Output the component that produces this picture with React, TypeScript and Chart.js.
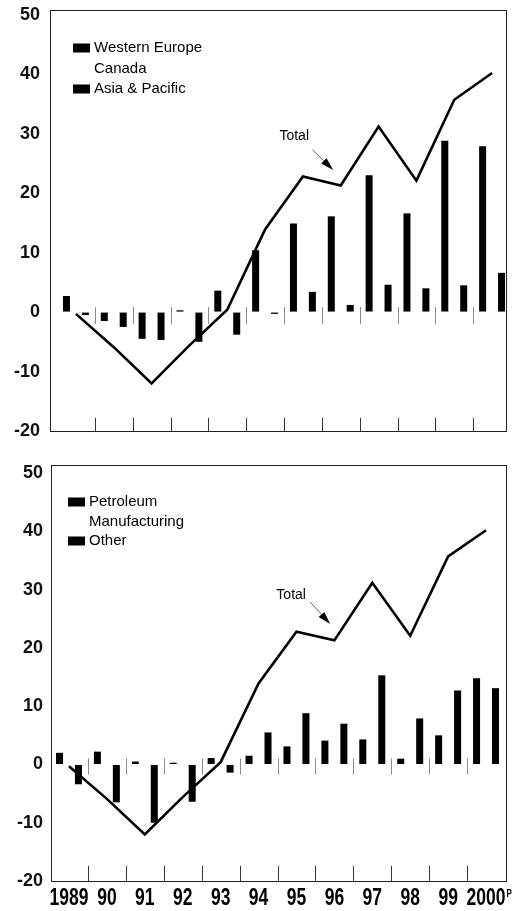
import React, { useEffect, useRef } from "react";
import { Chart, registerables } from "chart.js";

Chart.register(...registerables);

// ---------- data ----------
const years = ["1989", "90", "91", "92", "93", "94", "95", "96", "97", "98", "99", "2000"];
const lastYearNote = "P";
const total = [-0.3, -5.9, -12.0, -5.6, 0.4, 13.9, 22.8, 21.3, 31.2, 22.1, 35.7, 40.2];

const westernEurope = [2.7, -1.5, -4.5, 0.3, 3.6, 10.4, 14.9, 16.1, 23.0, 16.6, 28.8, 27.9];
const canada = [-2.5, -1.9, -2.8, -0.9, 0.6, 3.8, 4.5, 4.0, 3.6, 1.5, 2.4, 5.7];
const asiaPacific = [-0.5, -2.5, -4.7, -5.0, -3.8, -0.3, 3.4, 1.2, 4.6, 4.0, 4.5, 6.6];

const petroleum = [2.0, 2.2, 0.5, 0.3, 1.1, 1.5, 3.1, 4.1, 4.3, 1.0, 5.0, 14.8];
const manufacturing = [1.1, -1.6, -2.5, 0.5, 0.7, 6.9, 10.9, 10.2, 11.6, 13.2, 18.0, 12.3];
const other = [-3.4, -6.5, -10.0, -6.4, -1.4, 5.5, 8.8, 7.0, 15.3, 7.9, 12.7, 13.1];

const yTickValues = [-20, -10, 0, 10, 20, 30, 40, 50];
const totalLabel = "Total";

const FONT = '"Liberation Sans", Arial, Helvetica, sans-serif';

// ---------- decoration plugin ----------
const decorPlugin: any = {
  id: "decor",
  beforeDatasetsDraw(chart: any, _a: any, o: any) {
    const { ctx, chartArea } = chart;
    const xs = chart.scales.x;
    const ys = chart.scales.y;
    const n = chart.data.labels.length;
    const y0 = ys.getPixelForValue(0);
    ctx.save();
    ctx.lineWidth = 1;
    for (let i = 0; i < n - 1; i++) {
      const bx = Math.round((xs.getPixelForValue(i) + xs.getPixelForValue(i + 1)) / 2) + 0.5;
      ctx.strokeStyle = "#8a8a8a";
      ctx.beginPath();
      ctx.moveTo(bx, y0 - o.zeroUp);
      ctx.lineTo(bx, y0 + o.zeroDown);
      ctx.stroke();
      ctx.strokeStyle = "#333";
      ctx.beginPath();
      ctx.moveTo(bx, chartArea.bottom);
      ctx.lineTo(bx, chartArea.bottom - o.baseTick);
      ctx.stroke();
    }
    ctx.restore();
  },
  afterDatasetsDraw(chart: any, _a: any, o: any) {
    const { ctx, chartArea } = chart;
    const xs = chart.scales.x;
    const ys = chart.scales.y;
    const fl = chartArea.left + o.frameLeft;
    const fr = chartArea.right + o.frameRight;
    ctx.save();
    // frame
    ctx.strokeStyle = "#222";
    ctx.lineWidth = 1;
    ctx.strokeRect(Math.round(fl) + 0.5, Math.round(chartArea.top) + 0.5, Math.round(fr - fl), Math.round(chartArea.bottom - chartArea.top));

    // legend
    const bars = chart.data.datasets.filter((d: any) => d.type !== "line");
    ctx.font = `15px ${FONT}`;
    ctx.textBaseline = "middle";
    ctx.textAlign = "left";
    bars.forEach((d: any, i: number) => {
      const cy = chartArea.top + o.legendY + i * o.legendRow;
      const bx = fl + o.legendX;
      ctx.fillStyle = d.backgroundColor;
      ctx.fillRect(bx, cy - 4.5, 17, 9);
      ctx.fillStyle = "#000";
      ctx.fillText(d.label, bx + 21, cy);
    });

    // annotation
    const a = o.note;
    const tx = xs.getPixelForValue(a.text[0]);
    const ty = ys.getPixelForValue(a.text[1]);
    ctx.font = `14px ${FONT}`;
    ctx.textAlign = "center";
    ctx.fillStyle = "#000";
    ctx.fillText(totalLabel, tx, ty);
    const sx = xs.getPixelForValue(a.from[0]);
    const sy = ys.getPixelForValue(a.from[1]);
    const ex = xs.getPixelForValue(a.to[0]);
    const ey = ys.getPixelForValue(a.to[1]);
    const ang = Math.atan2(ey - sy, ex - sx);
    const hl = 13, hw = 3.8;
    const hx = ex - hl * Math.cos(ang);
    const hy = ey - hl * Math.sin(ang);
    ctx.strokeStyle = "#666";
    ctx.lineWidth = 1;
    ctx.beginPath();
    ctx.moveTo(sx, sy);
    ctx.lineTo(hx, hy);
    ctx.stroke();
    ctx.fillStyle = "#000";
    ctx.beginPath();
    ctx.moveTo(ex, ey);
    ctx.lineTo(hx + hw * Math.sin(ang), hy - hw * Math.cos(ang));
    ctx.lineTo(hx - hw * Math.sin(ang), hy + hw * Math.cos(ang));
    ctx.closePath();
    ctx.fill();

    // x labels
    if (o.xLabels) {
      const labels = chart.data.labels;
      ctx.font = `bold 17.5px ${FONT}`;
      ctx.textAlign = "center";
      ctx.textBaseline = "alphabetic";
      labels.forEach((lab: string, i: number) => {
        const x = xs.getPixelForValue(i);
        const y = chartArea.bottom + 24;
        ctx.save();
        ctx.translate(x, y);
        ctx.scale(1, 1.35);
        ctx.fillStyle = "#000";
        ctx.fillText(lab, 0, 0);
        if (i === labels.length - 1) {
          const w = ctx.measureText(lab).width;
          ctx.font = `bold 8px ${FONT}`;
          ctx.textAlign = "left";
          ctx.fillText(lastYearNote, w / 2 + 1, -6);
        }
        ctx.restore();
      });
    }
    ctx.restore();
  },
};

function makeConfig(p: any): any {
  return {
    type: "bar",
    data: {
      labels: years,
      datasets: [
        {
          type: "line",
          label: totalLabel,
          data: total,
          borderColor: "#000",
          borderWidth: 2.6,
          pointRadius: 0,
          tension: 0,
          fill: false,
          order: 0,
        },
        ...p.bars.map((b: any) => ({
          type: "bar",
          label: b.label,
          data: b.data,
          backgroundColor: b.color,
          borderWidth: 0,
          categoryPercentage: 0.75,
          barPercentage: 0.74,
          order: 1,
        })),
      ],
    },
    options: {
      animation: false,
      responsive: false,
      devicePixelRatio: 1,
      layout: { padding: p.padding },
      scales: {
        x: { display: false, offset: true },
        y: {
          min: -20,
          max: p.max,
          afterBuildTicks: (s: any) => {
            s.ticks = yTickValues.map((v) => ({ value: v }));
          },
          afterFit: (s: any) => {
            s.width = p.axisWidth;
          },
          grid: {
            display: true,
            drawOnChartArea: false,
            drawTicks: true,
            tickLength: p.tickPad,
            color: "rgba(0,0,0,0)",
          },
          border: { display: false },
          ticks: {
            padding: 0,
            color: "#111",
            font: { family: FONT, size: 18, weight: "bold", lineHeight: 1 },
          },
        },
      },
      plugins: {
        legend: { display: false },
        tooltip: { enabled: false },
        decor: p.decor,
      },
    },
    plugins: [decorPlugin],
  };
}

function Panel(props: { top: number; height: number; cfg: any }) {
  const ref = useRef<HTMLCanvasElement>(null);
  useEffect(() => {
    const chart = new Chart(ref.current as HTMLCanvasElement, props.cfg);
    return () => chart.destroy();
  }, []);
  return (
    <canvas
      ref={ref}
      width={519}
      height={props.height}
      style={{ position: "absolute", left: 0, top: props.top, width: 519, height: props.height, display: "block" }}
    />
  );
}

const topCfg = makeConfig({
  bars: [
    { label: "Western Europe", data: westernEurope, color: "#000" },
    { label: "Canada", data: canada, color: "#fff" },
    { label: "Asia & Pacific", data: asiaPacific, color: "#000" },
  ],
  max: 50.8,
  padding: { top: 10, bottom: 14, left: 0, right: 8 },
  axisWidth: 57,
  tickPad: 17,
  decor: {
    frameLeft: -7,
    frameRight: -5,
    legendX: 23,
    legendY: 38,
    legendRow: 20.5,
    zeroUp: 5,
    zeroDown: 12,
    baseTick: 13,
    xLabels: false,
    note: { text: [5.77, 29.6], from: [6.25, 27.3], to: [6.8, 23.9] },
  },
});

const bottomCfg = makeConfig({
  bars: [
    { label: "Petroleum", data: petroleum, color: "#000" },
    { label: "Manufacturing", data: manufacturing, color: "#fff" },
    { label: "Other", data: other, color: "#000" },
  ],
  max: 51.4,
  padding: { top: 10, bottom: 30, left: 0, right: 14 },
  axisWidth: 50,
  tickPad: 7,
  decor: {
    frameLeft: 1,
    frameRight: 1,
    legendX: 17,
    legendY: 37,
    legendRow: 19.5,
    zeroUp: 6,
    zeroDown: 10,
    baseTick: 15,
    xLabels: true,
    note: { text: [5.86, 29.1], from: [6.36, 27.9], to: [6.89, 24.1] },
  },
});

export default function App() {
  return (
    <div style={{ position: "absolute", left: 0, top: 0, width: 519, height: 911, background: "#fff", overflow: "hidden" }}>
      <Panel top={0} height={445} cfg={topCfg} />
      <Panel top={455} height={456} cfg={bottomCfg} />
    </div>
  );
}
